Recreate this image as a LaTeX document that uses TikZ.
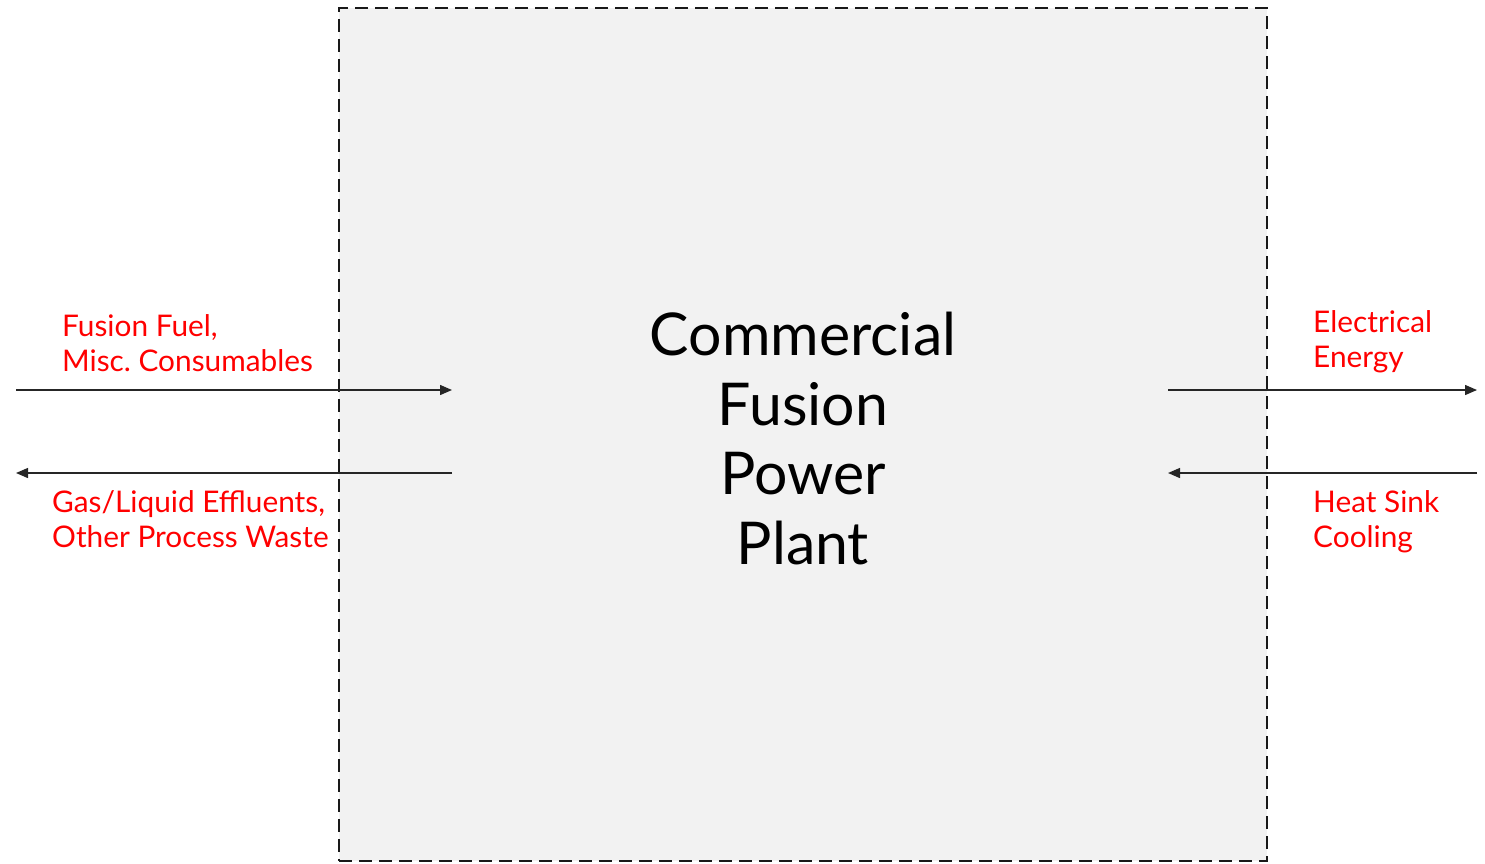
\documentclass[tikz,border=0pt]{standalone}
\usepackage{fontspec}
\setmainfont{Lato}
\usetikzlibrary{arrows.meta}
\definecolor{boxgray}{RGB}{242,242,242}
\definecolor{lblred}{RGB}{255,0,0}
\tikzset{
  plant/.style={draw=black!90, line width=2.2pt, dash pattern=on 13pt off 7pt, fill=boxgray, minimum width=928pt, minimum height=853pt, inner sep=0pt},
  flow/.style={draw=black!85, line width=1.4pt, -{Triangle[length=12pt,width=10pt]}},
  lbl/.style={text=lblred, font=\fontsize{29.8}{35}\selectfont, align=left, inner sep=0pt},
  title/.style={font=\fontsize{59}{69.5}\selectfont, align=center, inner sep=0pt}
}
\begin{document}
\frenchspacing
\begin{tikzpicture}[x=1pt,y=-1pt]
\useasboundingbox (0,0) rectangle (1485,863);
\node[plant] (box) at (803,434.5) {};
\node[title, anchor=base] (name) at (803,564) {Commercial\\Fusion\\Power\\Plant};
\coordinate (a1) at (16,390);
\coordinate (a2) at (452,390);
\coordinate (b1) at (452,473);
\coordinate (b2) at (16,473);
\coordinate (c1) at (1168,390);
\coordinate (c2) at (1477,390);
\coordinate (d1) at (1477,473);
\coordinate (d2) at (1168,473);
\draw[flow] (a1) -- (a2);
\draw[flow] (b1) -- (b2);
\draw[flow] (c1) -- (c2);
\draw[flow] (d1) -- (d2);
\node[lbl, anchor=base west] (fuel) at (62,371) {Fusion Fuel,\\Misc. Consumables};
\node[lbl, anchor=base west] (waste) at (52,547) {Gas/Liquid Effluents,\\Other Process Waste};
\node[lbl, anchor=base west] (elec) at (1313,367) {Electrical\\Energy};
\node[lbl, anchor=base west] (heat) at (1313,547) {Heat Sink\\Cooling};
\end{tikzpicture}
\end{document}
